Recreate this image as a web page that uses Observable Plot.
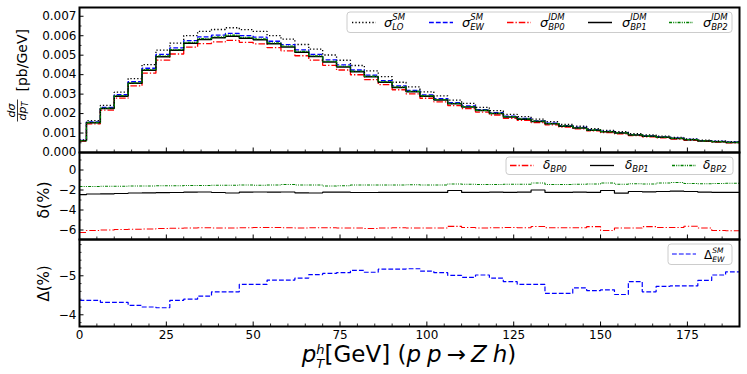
<!DOCTYPE html>
<html><head><meta charset="utf-8">
<script src="https://cdn.jsdelivr.net/npm/d3@7"></script>
<script src="https://cdn.jsdelivr.net/npm/@observablehq/plot@0.6"></script>
<style>
body{margin:0;background:#fff;}
#chart{position:relative;width:747px;height:374px;font-family:"DejaVu Sans",sans-serif;}
#chart svg{position:absolute;left:0;}
</style></head><body><div id="chart"></div>
<script>
// ---- data ----
const binEdges = [0,2,6,10,14,18,22,26,30,34,38,42,46,50,54,58,62,66,70,74,78,82,86,90,94,98,102,106,110,114,118,122,126,130,134,138,142,146,150,154,158,162,166,170,174,178,182,186,190];
const sigmaLO = [0.00065,0.00164,0.00242,0.00310,0.00380,0.00452,0.00526,0.00562,0.00601,0.00622,0.00632,0.00641,0.00631,0.00622,0.00601,0.00583,0.00555,0.00531,0.00501,0.00474,0.00447,0.00419,0.00390,0.00361,0.00337,0.00312,0.00291,0.00269,0.00252,0.00232,0.00215,0.00196,0.00184,0.00171,0.00158,0.00145,0.00135,0.00123,0.00114,0.00107,0.00097,0.00090,0.00084,0.00077,0.00070,0.00064,0.00060,0.00056];
const sigmaEW = [0.000622,0.001568,0.002315,0.002966,0.003639,0.004330,0.005040,0.005374,0.005746,0.005941,0.006030,0.006116,0.006008,0.005923,0.005716,0.005545,0.005276,0.005043,0.004756,0.004499,0.004240,0.003977,0.003698,0.003423,0.003195,0.002960,0.002762,0.002555,0.002395,0.002204,0.002044,0.001865,0.001752,0.001628,0.001508,0.001384,0.001287,0.001173,0.001087,0.001022,0.000923,0.000859,0.000800,0.000734,0.000667,0.000609,0.000570,0.000531];
const sigmaBP0 = [0.000583,0.001473,0.002176,0.002789,0.003424,0.004075,0.004745,0.005061,0.005413,0.005598,0.005680,0.005761,0.005661,0.005582,0.005387,0.005225,0.004970,0.004751,0.004481,0.004238,0.003994,0.003744,0.003484,0.003225,0.003010,0.002788,0.002602,0.002411,0.002257,0.002076,0.001926,0.001758,0.001651,0.001536,0.001421,0.001304,0.001213,0.001107,0.001021,0.000963,0.000869,0.000810,0.000754,0.000692,0.000630,0.000574,0.000536,0.000499];
const sigmaBP1 = [0.000607,0.001530,0.002260,0.002896,0.003555,0.004231,0.004926,0.005253,0.005618,0.005810,0.005894,0.005975,0.005875,0.005793,0.005589,0.005423,0.005156,0.004927,0.004650,0.004399,0.004145,0.003888,0.003615,0.003346,0.003123,0.002894,0.002700,0.002503,0.002341,0.002155,0.001999,0.001823,0.001713,0.001595,0.001474,0.001353,0.001258,0.001147,0.001065,0.000998,0.000903,0.000840,0.000783,0.000718,0.000653,0.000595,0.000557,0.000519];
const sigmaBP2 = [0.000612,0.001542,0.002278,0.002918,0.003581,0.004261,0.004960,0.005289,0.005657,0.005849,0.005938,0.006023,0.005918,0.005833,0.005630,0.005465,0.005197,0.004967,0.004680,0.004428,0.004176,0.003917,0.003643,0.003372,0.003148,0.002916,0.002721,0.002519,0.002361,0.002172,0.002014,0.001839,0.001727,0.001607,0.001486,0.001364,0.001269,0.001157,0.001073,0.001007,0.000910,0.000847,0.000790,0.000725,0.000658,0.000601,0.000562,0.000524];
const deltaBP0 = [-6.25,-6.05,-6.0,-5.95,-5.92,-5.9,-5.85,-5.82,-5.8,-5.78,-5.8,-5.8,-5.78,-5.75,-5.75,-5.78,-5.8,-5.78,-5.78,-5.8,-5.8,-5.85,-5.8,-5.78,-5.8,-5.8,-5.8,-5.64,-5.75,-5.8,-5.78,-5.75,-5.78,-5.65,-5.78,-5.78,-5.78,-5.66,-6.05,-5.8,-5.8,-5.66,-5.75,-5.75,-5.62,-5.8,-6.05,-6.08];
const deltaBP1 = [-2.47,-2.4,-2.38,-2.35,-2.3,-2.28,-2.27,-2.25,-2.22,-2.2,-2.25,-2.3,-2.22,-2.2,-2.22,-2.2,-2.28,-2.3,-2.22,-2.22,-2.25,-2.25,-2.24,-2.24,-2.24,-2.24,-2.24,-2.05,-2.24,-2.24,-2.22,-2.24,-2.22,-2.0,-2.24,-2.24,-2.22,-2.24,-2.05,-2.32,-2.15,-2.18,-2.15,-2.12,-2.15,-2.22,-2.24,-2.24];
const deltaBP2 = [-1.65,-1.65,-1.62,-1.62,-1.6,-1.6,-1.58,-1.58,-1.55,-1.55,-1.52,-1.52,-1.5,-1.52,-1.5,-1.45,-1.5,-1.5,-1.6,-1.58,-1.5,-1.5,-1.5,-1.5,-1.48,-1.5,-1.5,-1.4,-1.42,-1.45,-1.45,-1.42,-1.42,-1.3,-1.45,-1.45,-1.42,-1.4,-1.3,-1.42,-1.38,-1.4,-1.3,-1.25,-1.35,-1.38,-1.35,-1.32];
const DeltaEW = [-4.37,-4.37,-4.32,-4.32,-4.24,-4.2,-4.18,-4.37,-4.4,-4.48,-4.59,-4.59,-4.78,-4.78,-4.89,-4.89,-4.94,-5.03,-5.06,-5.08,-5.14,-5.09,-5.17,-5.17,-5.18,-5.12,-5.08,-5.01,-4.96,-5.02,-4.94,-4.85,-4.78,-4.78,-4.55,-4.55,-4.69,-4.62,-4.64,-4.52,-4.85,-4.59,-4.73,-4.74,-4.74,-4.88,-5.02,-5.10];

const xMajor = [0,25,50,75,100,125,150,175];
const xMinor = [5,10,15,20,30,35,40,45,55,60,65,70,80,85,90,95,105,110,115,120,130,135,140,145,155,160,165,170,180,185];
const y1Major = [0,0.001,0.002,0.003,0.004,0.005,0.006,0.007];
const y1Minor = [0.0005,0.0015,0.0025,0.0035,0.0045,0.0055,0.0065];
const y2Major = [0,-2,-4,-6];
const y2Minor = [1,-1,-3,-5];
const y3Major = [-5,-4];
const y3Minor = [-5.8,-5.6,-5.4,-5.2,-4.8,-4.6,-4.4,-4.2,-3.8];

// ---- styles ----
const S = {
  LO:  {color: "black",   width: 1.3, dash: "1.3,2.1"},
  EW:  {color: "#0000ff", width: 1.3, dash: "4.8,2.1"},
  BP0: {color: "#ff0000", width: 1.3, dash: "6.5,2,1.3,2"},
  BP1: {color: "black",   width: 1.5, dash: null},
  BP2: {color: "#008000", width: 1.3, dash: "3,1.2,1,1.2,1,1.2"}
};

const W = 747, ML = 79, MR = 8, PW = W - ML - MR;
const chart = document.getElementById("chart");

function stepData(vals) {
  const d = vals.map((v, i) => ({x: binEdges[i], y: v}));
  d.push({x: binEdges[binEdges.length - 1], y: vals[vals.length - 1]});
  return d;
}
function line(vals, s, w) {
  return Plot.line(stepData(vals), {x: "x", y: "y", curve: "step-after", stroke: s.color,
    strokeWidth: w || s.width, strokeDasharray: s.dash, strokeLinecap: "butt", strokeLinejoin: "miter"});
}

function panel({top, height, mt, mb, yDomain, yMajor, yMinor, yFormat, lines, xLabels}) {
  const PH = height - mt - mb;
  const marks = [
    ...lines,
    Plot.tickY(yMajor, {y: d => d, insetRight: PW - 4.5, stroke: "black", strokeWidth: 1}),
    Plot.tickY(yMinor, {y: d => d, insetRight: PW - 2.5, stroke: "black", strokeWidth: 0.8}),
    Plot.tickX(xMajor, {x: d => d, insetTop: PH - 4.5, stroke: "black", strokeWidth: 1}),
    Plot.tickX(xMinor, {x: d => d, insetTop: PH - 2.5, stroke: "black", strokeWidth: 0.8}),
    Plot.axisY(yMajor, {tickSize: 0, tickPadding: 3, tickFormat: yFormat, fontSize: 12, label: null}),
    Plot.frame({stroke: "black", strokeWidth: 2})
  ];
  if (xLabels) marks.push(Plot.axisX(xMajor, {tickSize: 0, tickPadding: 4, fontSize: 12, label: null}));
  const svg = Plot.plot({
    width: W, height, marginLeft: ML, marginRight: MR, marginTop: mt, marginBottom: mb,
    style: {background: "transparent", overflow: "visible", fontFamily: "DejaVu Sans", color: "black"},
    x: {domain: [0, 190], axis: xLabels ? undefined : null, label: null},
    y: {domain: yDomain, label: null},
    marks
  });
  svg.style.top = top + "px";
  chart.appendChild(svg);
}

panel({top: 0, height: 160, mt: 7, mb: 8, yDomain: [0, 0.00745], yMajor: y1Major, yMinor: y1Minor,
  yFormat: d3.format(".3f"),
  lines: [line(sigmaLO, S.LO), line(sigmaEW, S.EW), line(sigmaBP0, S.BP0), line(sigmaBP1, S.BP1), line(sigmaBP2, S.BP2)]});
panel({top: 145, height: 101, mt: 7, mb: 7, yDomain: [-6.95, 1.75], yMajor: y2Major, yMinor: y2Minor,
  yFormat: d3.format("d"),
  lines: [line(deltaBP0, S.BP0, 1.1), line(deltaBP1, S.BP1, 1.2), line(deltaBP2, S.BP2, 1.1)]});
panel({top: 232, height: 142, mt: 7, mb: 48, yDomain: [-3.7, -5.93], yMajor: y3Major, yMinor: y3Minor,
  yFormat: d3.format("d"),
  lines: [line(DeltaEW, S.EW, 1.2)], xLabels: true});

// ---- overlay: legends and labels ----
const ov = d3.create("svg").attr("width", W).attr("height", 374)
  .style("top", "0px").style("overflow", "visible")
  .attr("font-family", "DejaVu Sans").attr("fill", "black");
chart.appendChild(ov.node());

// rich text: items {t, size, italic, dy, stack, gap}
function rich(g, x, y, items) {
  let cx = x, pendingW = 0;
  for (const it of items) {
    const el = g.append("text").attr("x", cx).attr("y", y + (it.dy || 0))
      .attr("font-size", it.size).attr("font-style", it.italic ? "italic" : "normal").text(it.t);
    const w = el.node().getComputedTextLength() + (it.gap || 0);
    if (it.stack) { pendingW = w; }
    else { cx += Math.max(w, pendingW); pendingW = 0; }
  }
  return cx;
}
function legendBox(x1, y1, x2, y2) {
  ov.append("rect").attr("x", x1).attr("y", y1).attr("width", x2 - x1).attr("height", y2 - y1)
    .attr("rx", 3).attr("fill", "white").attr("fill-opacity", 0.8).attr("stroke", "#cccccc").attr("stroke-width", 1);
}
function sample(x1, x2, y, s, w) {
  ov.append("line").attr("x1", x1).attr("x2", x2).attr("y1", y).attr("y2", y)
    .attr("stroke", s.color).attr("stroke-width", w || s.width).attr("stroke-dasharray", s.dash);
}

// top legend
const sigLabels = [["SM","LO",S.LO,352,384],["SM","EW",S.EW,429,462],["IDM","BP0",S.BP0,507,540],["IDM","BP1",S.BP1,588,622],["IDM","BP2",S.BP2,669,703]];
legendBox(347, 12, 732, 32.5);
for (const [sup, sub, s, sx, tx] of sigLabels) {
  sample(sx, sx + 24, 22.5, s);
  rich(ov, tx, 26.5, [{t: "σ", size: 13, italic: true}, {t: sup, size: 8.5, italic: true, dy: -7, stack: true}, {t: sub, size: 8.5, italic: true, dy: 3}]);
}
// middle legend
legendBox(506, 157, 733, 174.5);
const dLabels = [["BP0", S.BP0, 510, 543], ["BP1", S.BP1, 590, 625], ["BP2", S.BP2, 672, 703]];
for (const [sub, s, sx, tx] of dLabels) {
  sample(sx, sx + 24, 165.5, s, 1.3);
  rich(ov, tx, 169, [{t: "δ", size: 12, italic: true}, {t: sub, size: 8.5, italic: true, dy: 2.5}]);
}
// bottom legend
legendBox(668, 244, 732, 264.5);
sample(672, 696, 254, S.EW, 1.2);
rich(ov, 704, 259, [{t: "Δ", size: 12}, {t: "SM", size: 7.5, italic: true, dy: -6.5, stack: true}, {t: "EW", size: 7.5, italic: true, dy: 2.5}]);

// y label top (rotated)
const gy1 = ov.append("g").attr("transform", "translate(22,79.5) rotate(-90)");
gy1.append("text").attr("x", -31).attr("y", -7).attr("font-size", 11).attr("font-style", "italic").attr("text-anchor", "middle").text("dσ");
gy1.append("line").attr("x1", -42).attr("x2", -20).attr("y1", -4.5).attr("y2", -4.5).attr("stroke", "black").attr("stroke-width", 0.8);
rich(gy1, -41, 4, [{t: "dp", size: 11, italic: true}, {t: "T", size: 8, italic: true, dy: 2}]);
gy1.append("text").attr("x", -12).attr("y", 5).attr("font-size", 14).text("[pb/GeV]");

// y label middle / bottom
ov.append("text").attr("transform", "translate(49,200) rotate(-90)").attr("text-anchor", "middle")
  .attr("font-size", 16).text("δ(%)");
ov.append("text").attr("transform", "translate(49,283.5) rotate(-90)").attr("text-anchor", "middle")
  .attr("font-size", 15).text("Δ(%)");

// x title
const gx = ov.append("g");
const endX = rich(gx, 0, 0, [
  {t: "p", size: 23, italic: true},
  {t: "h", size: 13, italic: true, dy: -8.5, stack: true},
  {t: "T", size: 13, italic: true, dy: 6},
  {t: "[GeV] (", size: 23},
  {t: "p", size: 23, italic: true, gap: 6},
  {t: "p", size: 23, italic: true, gap: 5},
  {t: "→", size: 23, gap: 5},
  {t: "Z", size: 23, italic: true, gap: 6},
  {t: "h", size: 23, italic: true},
  {t: ")", size: 23}
]);
gx.attr("transform", `translate(${(ML + W - MR) / 2 - endX / 2},362)`);
</script></body></html>
